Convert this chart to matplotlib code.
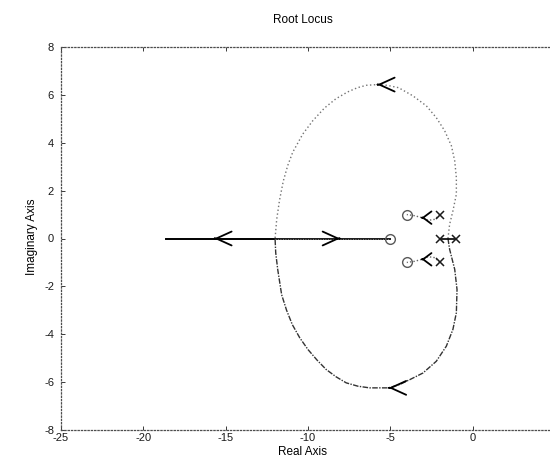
import numpy as np
import matplotlib
matplotlib.use('Agg')
import matplotlib.pyplot as plt

plt.rcParams['font.family'] = ['Liberation Sans', 'DejaVu Sans']
plt.rcParams['axes.unicode_minus'] = False

# poles and zeros of the open loop system
pole_re = [-1, -2, -2, -2]
pole_im = [0, 0, 1, -1]
zero_re = [-5, -4, -4]
zero_im = [0, 1, -1]

# big loop (breakaway at -1.5, break-in at -12)
up_re = [-1.5, -1.4, -1.2, -0.99, -0.99, -1.09, -1.29, -1.7, -2.21, -2.81, -3.63,
         -4.5, -5.2, -5.8, -6.46, -7.0, -7.6, -8.3, -9.0, -9.71, -10.32, -10.93,
         -11.23, -11.5, -11.73, -11.9, -12.0]
up_im = [0, 0.59, 1.15, 1.85, 2.54, 3.24, 3.87, 4.5, 5.05, 5.54, 5.96,
         6.3, 6.4, 6.43, 6.4, 6.3, 6.12, 5.84, 5.45, 4.92, 4.36, 3.6,
         3.05, 2.4, 1.6, 0.8, 0]
lo_re = [-1.5, -1.4, -1.09, -0.95, -0.99, -1.2, -1.6, -2.21, -3.02, -3.83, -4.44,
         -5.1, -6.26, -6.97, -7.68, -8.29, -8.9, -9.45, -10.0, -10.5, -10.95,
         -11.3, -11.6, -11.84, -11.96, -12.0]
lo_im = [0, -0.45, -1.29, -2.13, -3.1, -3.8, -4.5, -5.13, -5.62, -5.9, -6.1,
         -6.24, -6.24, -6.17, -6.03, -5.78, -5.47, -5.08, -4.64, -4.15, -3.6,
         -3.0, -2.35, -1.29, -0.6, 0]

# complex pole -> complex zero branch (upper one, lower is its mirror)
cb_re = [-2, -2.3, -2.7, -3.1, -3.5, -4]
cb_im = [1, 0.8, 0.76, 0.87, 0.95, 1]

# real axis segments
seg_left = [-18.6, -12]
seg_mid = [-12, -5]
seg_right = [-2, -1]

# arrows: tip x, tip y, direction (+1 right, -1 left)
arr_x = [-15.7, -8.05, -5.8, -5.1, -3.1, -3.1]
arr_y = [0, 0, 6.43, -6.24, 0.87, -0.87]
arr_dir = [-1, 1, -1, -1, -1, -1]
arr_big = [True, True, True, True, False, False]

fig = plt.figure(figsize=(5.5, 4.59), dpi=100)
ax = fig.add_axes([61/550, 29/459, 494/550, 383/459])

ax.plot(up_re, up_im, color='0.45', lw=1.0, ls=(0, (1, 1.8)))
ax.plot(lo_re, lo_im, color='0.2', lw=1.0, ls=(0, (4, 1, 1, 1)))
ax.plot(cb_re, cb_im, color='0.4', lw=1.0, ls=(0, (1, 1.5)))
ax.plot(cb_re, -np.array(cb_im), color='0.4', lw=1.0, ls=(0, (1, 1.5)))

ax.plot(seg_left, [0, 0], color='black', lw=1.4)
ax.plot(seg_mid, [0, 0], color='0.1', lw=1.4)
ax.plot(seg_mid, [0, 0], color='0.6', lw=0.6, ls=(0, (1, 2)))
ax.plot(seg_right, [0, 0], color='black', lw=1.2)

ax.plot(pole_re, pole_im, 'x', color='0.1', ms=6, mew=1.1)
ax.plot(zero_re, zero_im, 'o', mfc='none', mec='0.35', ms=7, mew=1.0)

for x, y, d, big in zip(arr_x, arr_y, arr_dir, arr_big):
    if big:
        style = '->,head_length=1.1,head_width=0.5'
    else:
        style = '->,head_length=0.6,head_width=0.45'
    ax.annotate('', xy=(x, y), xytext=(-d * 0.6, 0), textcoords='offset points',
                arrowprops=dict(arrowstyle=style, color='black', lw=1.3,
                                shrinkA=0, shrinkB=0))

ax.set_xlim(-25, 5)
ax.set_ylim(-8, 8)
ax.set_xticks([-25, -20, -15, -10, -5, 0])
ax.set_yticks([-8, -6, -4, -2, 0, 2, 4, 6, 8])
ax.tick_params(direction='in', length=3, width=0.6, top=True, right=True,
               labelsize=8, colors='0.1')
ax.tick_params(axis='x', pad=2)
ax.tick_params(axis='y', pad=5)
for sp in ax.spines.values():
    sp.set_linestyle(':')
    sp.set_linewidth(0.9)
    sp.set_color('0.3')

fig.text(303/550, 1 - 20/459, 'Root Locus', ha='center', va='center', fontsize=8.5)
fig.text(302/550, 1 - 452/459, 'Real Axis', ha='center', va='center', fontsize=8.5)
fig.text(32/550, 1 - 237/459, 'Imaginary Axis', ha='center', va='center',
         rotation=90, fontsize=8.5)

fig.savefig('out.png', dpi=100)
